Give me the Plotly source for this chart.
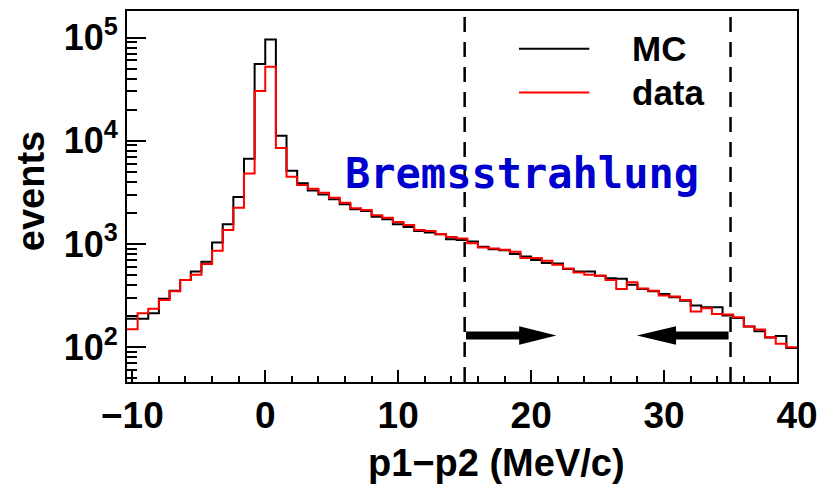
import numpy as np
import plotly.graph_objects as go

# Histogram binning: 63 bins of 0.8 MeV/c from -10.4 to 40
bin_low = -10.4
bin_width = 0.8

mc_counts = [188, 188, 213, 294, 353, 448, 542, 672, 1031, 1552,
             2845, 6687, 55400, 95700, 11200, 5128, 3882, 3303, 3020, 2704,
             2420, 2167, 2084, 1837, 1734, 1552, 1462, 1337, 1288, 1244,
             1112, 1091, 1054, 937, 891, 871, 797, 756, 698, 653,
             647, 571, 542, 542, 492, 464, 460, 403, 366, 348,
             328, 304, 282, 253, 244, 244, 203, 192, 159, 143,
             124, 128, 98]

data_counts = [149, 213, 235, 287, 348, 448, 504, 638, 858, 1368,
               2244, 4819, 30400, 52200, 8506, 4487, 3715, 3420, 3131, 2800,
               2506, 2213, 2133, 1896, 1798, 1633, 1528, 1368, 1337, 1244,
               1170, 1127, 1018, 923, 903, 877, 839, 729, 729, 687,
               628, 579, 530, 504, 492, 448, 366, 426, 371, 353,
               316, 309, 287, 221, 238, 210, 207, 195, 159, 148,
               125, 108, 100]

series_names = ["MC", "data"]
series_colors = ["#000000", "#ff0000"]

cut_lines = [15, 35]
y_major = [1e2, 1e3, 1e4, 1e5]
y_exponents = [2, 3, 4, 5]
y_minor = [m * 10 ** e for e in range(1, 6) for m in range(2, 10)]
x_ticks = [-10, 0, 10, 20, 30, 40]

n_bins = len(mc_counts)
edges = bin_low + bin_width * np.arange(n_bins + 1)

fig = go.Figure()
for name, color, counts in zip(series_names, series_colors, [mc_counts, data_counts]):
    fig.add_trace(go.Scatter(
        x=edges, y=list(counts) + [counts[-1]],
        mode="lines", line=dict(shape="hv", color=color, width=2),
        name=name, showlegend=False, hoverinfo="skip"))

FONT = "Liberation Sans, Arial, sans-serif"
y_text = [f'10<sup style="font-size:30px">{e}</sup>' for e in y_exponents]

fig.update_layout(
    width=835, height=486,
    margin=dict(l=127, r=38, t=9, b=104),
    paper_bgcolor="white", plot_bgcolor="white",
    xaxis=dict(range=[bin_low, 40], showgrid=False, zeroline=False,
               showline=True, linecolor="black", linewidth=2, mirror=True,
               ticks="inside", ticklen=12, tickwidth=2, tickcolor="black",
               tickvals=x_ticks, ticktext=[("\u2212" + str(-v)) if v < 0 else str(v) for v in x_ticks],
               tickfont=dict(family=FONT, size=37, color="black", weight="bold"),
               minor=dict(ticks="inside", ticklen=6, tickwidth=2, tickcolor="black",
                          dtick=2, tick0=0, showgrid=False)),
    yaxis=dict(type="log", range=[1.6625, 5.257], showgrid=False, zeroline=False,
               showline=True, linecolor="black", linewidth=2, mirror=True,
               ticks="inside", ticklen=19, tickwidth=2, tickcolor="black",
               tickvals=y_major, ticktext=y_text,
               tickfont=dict(family=FONT, size=36, color="black", weight="bold"),
               minor=dict(ticks="inside", ticklen=10, tickwidth=2, tickcolor="black",
                          tickvals=y_minor, showgrid=False)),
)

# cut lines
for xc in cut_lines:
    fig.add_shape(type="line", xref="x", yref="paper", x0=xc, x1=xc, y0=0, y1=1,
                  line=dict(color="black", width=2.5, dash="15px,10px"))

# arrows (filled polygons)
ay = 0.1253
sh = 0.011   # half shaft thickness (paper)
hh = 0.025   # half head height (paper)
def arrow_path(x_start, x_headbase, x_tip):
    return (f"M {x_start},{ay - sh} L {x_headbase},{ay - sh} L {x_headbase},{ay - hh} "
            f"L {x_tip},{ay} L {x_headbase},{ay + hh} L {x_headbase},{ay + sh} "
            f"L {x_start},{ay + sh} Z")
for xs, xb, xt in [(15.1, 19.1, 21.9), (34.85, 30.9, 27.95)]:
    fig.add_shape(type="path", xref="x", yref="paper", path=arrow_path(xs, xb, xt),
                  fillcolor="black", line=dict(color="black", width=0))

# legend
leg = [(0.898, "MC", "#000000"), (0.780, "data", "#ff0000")]
for yy, txt, col in leg:
    fig.add_shape(type="line", xref="paper", yref="paper", x0=0.585, x1=0.690, y0=yy, y1=yy,
                  line=dict(color=col, width=2))
    fig.add_annotation(xref="paper", yref="paper", x=0.751, y=yy, text=txt, showarrow=False,
                       xanchor="left", yanchor="middle",
                       font=dict(family=FONT, size=35, color="black", weight="bold"))

fig.add_annotation(xref="paper", yref="paper", x=0.590, y=0.563, text="Bremsstrahlung",
                   showarrow=False, xanchor="center", yanchor="middle",
                   font=dict(family="DejaVu Sans Mono", size=42, color="#0000cc", weight="bold"))

# axis titles
fig.add_annotation(xref="paper", yref="paper", x=(496 - 127) / 670, y=-0.218,
                   text="p1\u2212p2 (MeV/c)", showarrow=False, xanchor="center", yanchor="middle",
                   font=dict(family=FONT, size=38, color="black", weight="bold"))
fig.add_annotation(xref="paper", yref="paper", x=(31 - 127) / 670, y=(381.7 - 190) / 372.7,
                   text="events", textangle=-90, showarrow=False, xanchor="center", yanchor="middle",
                   font=dict(family=FONT, size=38, color="black", weight="bold"))

fig.write_html("out.html")
